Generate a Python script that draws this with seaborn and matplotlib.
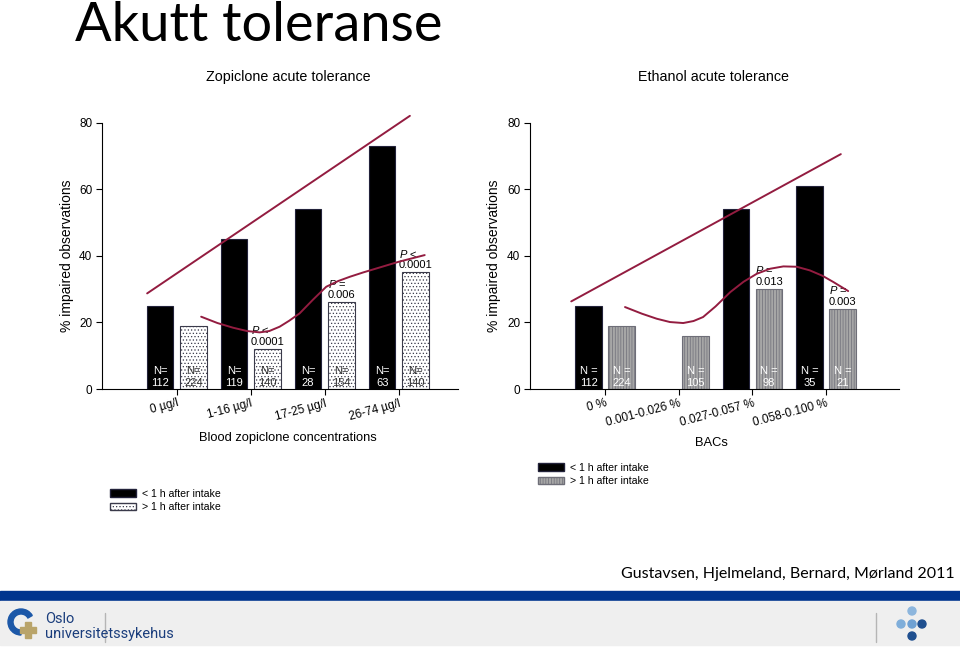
import numpy as np
import pandas as pd
import matplotlib
matplotlib.use("Agg")
import matplotlib.pyplot as plt
import seaborn as sns
from matplotlib.patches import Patch, Rectangle, Wedge, Circle

# ── data ────────────────────────────────────────────────
time_labels = ['< 1 h after intake', '> 1 h after intake']

zop_groups = ['0 µg/l', '1-16 µg/l', '17-25 µg/l', '26-74 µg/l']
zop_early = [25, 45, 54, 73]
zop_late = [19, 12, 26, 35]
zop_n_early = ['112', '119', '28', '63']
zop_n_late = ['224', '140', '154', '140']
zop_p_late = [None, '$P$ <\n0.0001', '$P$ =\n0.006', '$P$ <\n0.0001']

eth_groups = ['0 %', '0.001-0.026 %', '0.027-0.057 %', '0.058-0.100 %']
eth_early = [25, np.nan, 54, 61]
eth_late = [19, 16, 30, 24]
eth_n_early = ['112', None, '35', '77']
eth_n_late = ['224', '105', '98', '21']
eth_p_late = [None, None, '$P$ =\n0.013', '$P$ =\n0.003']

# hand drawn red trend lines (category position, % value)
zop_trend_x = [-0.40, 3.15]
zop_trend_y = [28.7, 82.0]
zop_curve_x = [0.33, 0.55, 0.76, 0.95, 1.12, 1.25, 1.39, 1.52, 1.66, 1.84, 2.02, 2.18, 2.34, 2.52, 2.70, 3.00, 3.35]
zop_curve_y = [21.7, 19.8, 18.4, 17.4, 17.0, 17.4, 18.7, 20.5, 22.7, 26.8, 30.7, 32.4, 33.7, 35.0, 36.2, 38.2, 40.2]

eth_trend_x = [-0.46, 3.20]
eth_trend_y = [26.3, 70.5]
eth_curve_x = [0.27, 0.50, 0.70, 0.88, 1.06, 1.20, 1.33, 1.50, 1.70, 1.88, 2.06, 2.24, 2.42, 2.60, 2.78, 2.95, 3.10, 3.30]
eth_curve_y = [24.6, 22.6, 21.1, 20.1, 19.8, 20.4, 21.6, 24.8, 29.1, 32.2, 34.6, 36.1, 36.8, 36.7, 35.6, 34.0, 32.1, 29.4]

# ── style ───────────────────────────────────────────────
sns.set_style('ticks')
plt.rcParams['font.family'] = ['Liberation Sans', 'DejaVu Sans']
plt.rcParams['mathtext.fontset'] = 'custom'
plt.rcParams['mathtext.it'] = 'Liberation Sans:italic'
plt.rcParams['mathtext.rm'] = 'Liberation Sans'
plt.rcParams['hatch.linewidth'] = 0.5
for k in ['text.color', 'axes.labelcolor', 'xtick.color', 'ytick.color', 'axes.edgecolor']:
    plt.rcParams[k] = 'black'

RED = '#931C40'
NAVY = '#1A3D7C'
EDGE = '#22223A'

fig = plt.figure(figsize=(9.6, 6.47), dpi=100)

# background decorations in pixel coordinates
bg = fig.add_axes([0, 0, 1, 1], zorder=-1)
bg.set_xlim(0, 960)
bg.set_ylim(647, 0)
bg.axis('off')
bg.add_patch(Rectangle((0, 591), 960, 9, color='#00358E'))
bg.add_patch(Rectangle((0, 601), 960, 44, color='#EFEFEF'))
bg.plot([105, 105], [613, 642], color='#B5B5B5', lw=1)
bg.plot([876, 876], [613, 642], color='#B5B5B5', lw=1)
bg.add_patch(Wedge((21, 622), 13, 90, 330, width=5, color='#1C58A8'))
bg.add_patch(Rectangle((20, 627), 16, 6, color='#B9A46A'))
bg.add_patch(Rectangle((25, 622), 6, 16, color='#B9A46A'))
for (cx, cy), c in zip([(912, 611), (901, 624), (912, 624), (922, 624), (912, 636)],
                       ['#8DB6DD', '#7FAEDA', '#6FA1D3', '#1F4F8F', '#1F4F8F']):
    bg.add_patch(Circle((cx, cy), 4, color=c))
bg.text(45, 619, 'Oslo', color=NAVY, fontsize=10.5, family='Roboto', va='center')
bg.text(45, 634, 'universitetssykehus', color=NAVY, fontsize=10.5, family='Roboto', va='center')

fig.text(75 / 960, 1 - 41 / 647, 'Akutt toleranse', family='Lato', fontsize=39, va='baseline')
fig.text(288 / 960, 1 - 77 / 647, 'Zopiclone acute tolerance', fontsize=10.3, ha='center', va='center')
fig.text(713 / 960, 1 - 77 / 647, 'Ethanol acute tolerance', fontsize=10.3, ha='center', va='center')
fig.text(955 / 960, 1 - 574 / 647, 'Gustavsen, Hjelmeland, Bernard, Mørland 2011',
         family='Lato', fontsize=11.5, ha='right', va='center')


def draw_panel(ax, groups, early, late, n_early, n_late, p_late, late_fc, late_ec, late_hatch,
               late_txt, n_prefix, xlim, trend, curve, xlabel, xlabel_xy):
    df = pd.DataFrame({
        'group': groups * 2,
        'time': [time_labels[0]] * len(groups) + [time_labels[1]] * len(groups),
        'pct': list(early) + list(late),
    })
    sns.barplot(data=df, x='group', y='pct', hue='time', hue_order=time_labels,
                palette=['black', late_fc], saturation=1, width=0.9, gap=0.2,
                edgecolor=EDGE, linewidth=0.8, legend=False, ax=ax, errorbar=None)
    for bar in ax.containers[1]:
        bar.set_edgecolor(late_ec)
        bar.set_hatch(late_hatch)

    for cont, labels, color in [(ax.containers[0], n_early, 'white'),
                                (ax.containers[1], n_late, late_txt)]:
        for bar, lab in zip(cont, labels):
            if lab is None or not np.isfinite(bar.get_height()):
                continue
            ax.text(bar.get_x() + bar.get_width() / 2, 0.4, n_prefix + '\n' + lab,
                    ha='center', va='bottom', fontsize=8, color=color, linespacing=1.2)
    for bar, lab in zip(ax.containers[1], p_late):
        if lab is None:
            continue
        ax.text(bar.get_x() + bar.get_width() / 2, bar.get_height() + 0.6, lab,
                ha='center', va='bottom', fontsize=8, multialignment='left', linespacing=1.1)

    ax.plot(trend[0], trend[1], color=RED, lw=1.4, clip_on=False, zorder=5)
    ax.plot(curve[0], curve[1], color=RED, lw=1.4, clip_on=False, zorder=5)

    ax.set_xlim(*xlim)
    ax.set_ylim(0, 80)
    ax.set_yticks([0, 20, 40, 60, 80])
    ax.tick_params(axis='y', labelsize=8.5, length=4, width=0.8, pad=3)
    ax.tick_params(axis='x', labelsize=8.5, length=4, width=0.8, pad=2)
    for t in ax.get_xticklabels():
        t.set_rotation(15)
        t.set_ha('right')
        t.set_rotation_mode('anchor')
    ax.set_ylabel('% impaired observations', fontsize=10)
    ax.yaxis.set_label_coords(-0.079, 0.5)
    ax.set_xlabel(xlabel, fontsize=9.3)
    ax.xaxis.set_label_coords(*xlabel_xy)
    ax.xaxis.label.set_va('top')
    sns.despine(ax=ax)
    for s in ax.spines.values():
        s.set_linewidth(0.8)


ax1 = fig.add_axes([102 / 960, 1 - 389 / 647, 356 / 960, 266.5 / 647])
draw_panel(ax1, zop_groups, zop_early, zop_late, zop_n_early, zop_n_late, zop_p_late,
           'white', '#3A3A4A', '.....', '#333333', 'N=', (-1.01, 3.80),
           (zop_trend_x, zop_trend_y), (zop_curve_x, zop_curve_y),
           'Blood zopiclone concentrations', (0.521, -0.16))

ax2 = fig.add_axes([530 / 960, 1 - 389 / 647, 369 / 960, 266.5 / 647])
draw_panel(ax2, eth_groups, eth_early, eth_late, eth_n_early, eth_n_late, eth_p_late,
           '#A6A6A6', '#6E6E78', '||||||', 'white', 'N =', (-1.02, 3.99),
           (eth_trend_x, eth_trend_y), (eth_curve_x, eth_curve_y),
           'BACs', (0.493, -0.18))

handles_l = [Patch(facecolor='black', edgecolor=EDGE),
             Patch(facecolor='white', edgecolor='#3A3A4A', hatch='.....')]
handles_r = [Patch(facecolor='black', edgecolor=EDGE),
             Patch(facecolor='#A6A6A6', edgecolor='#6E6E78', hatch='||||||')]
leg_kw = dict(loc='upper left', frameon=False, fontsize=7.6, handlelength=2.5, handleheight=0.75,
              labelspacing=0.3, handletextpad=0.5, borderpad=0, borderaxespad=0)
fig.legend(handles_l, time_labels, bbox_to_anchor=(110 / 960, 1 - 489 / 647), **leg_kw)
fig.legend(handles_r, time_labels, bbox_to_anchor=(538 / 960, 1 - 463 / 647), **leg_kw)

fig.savefig('out.png', dpi=100)
